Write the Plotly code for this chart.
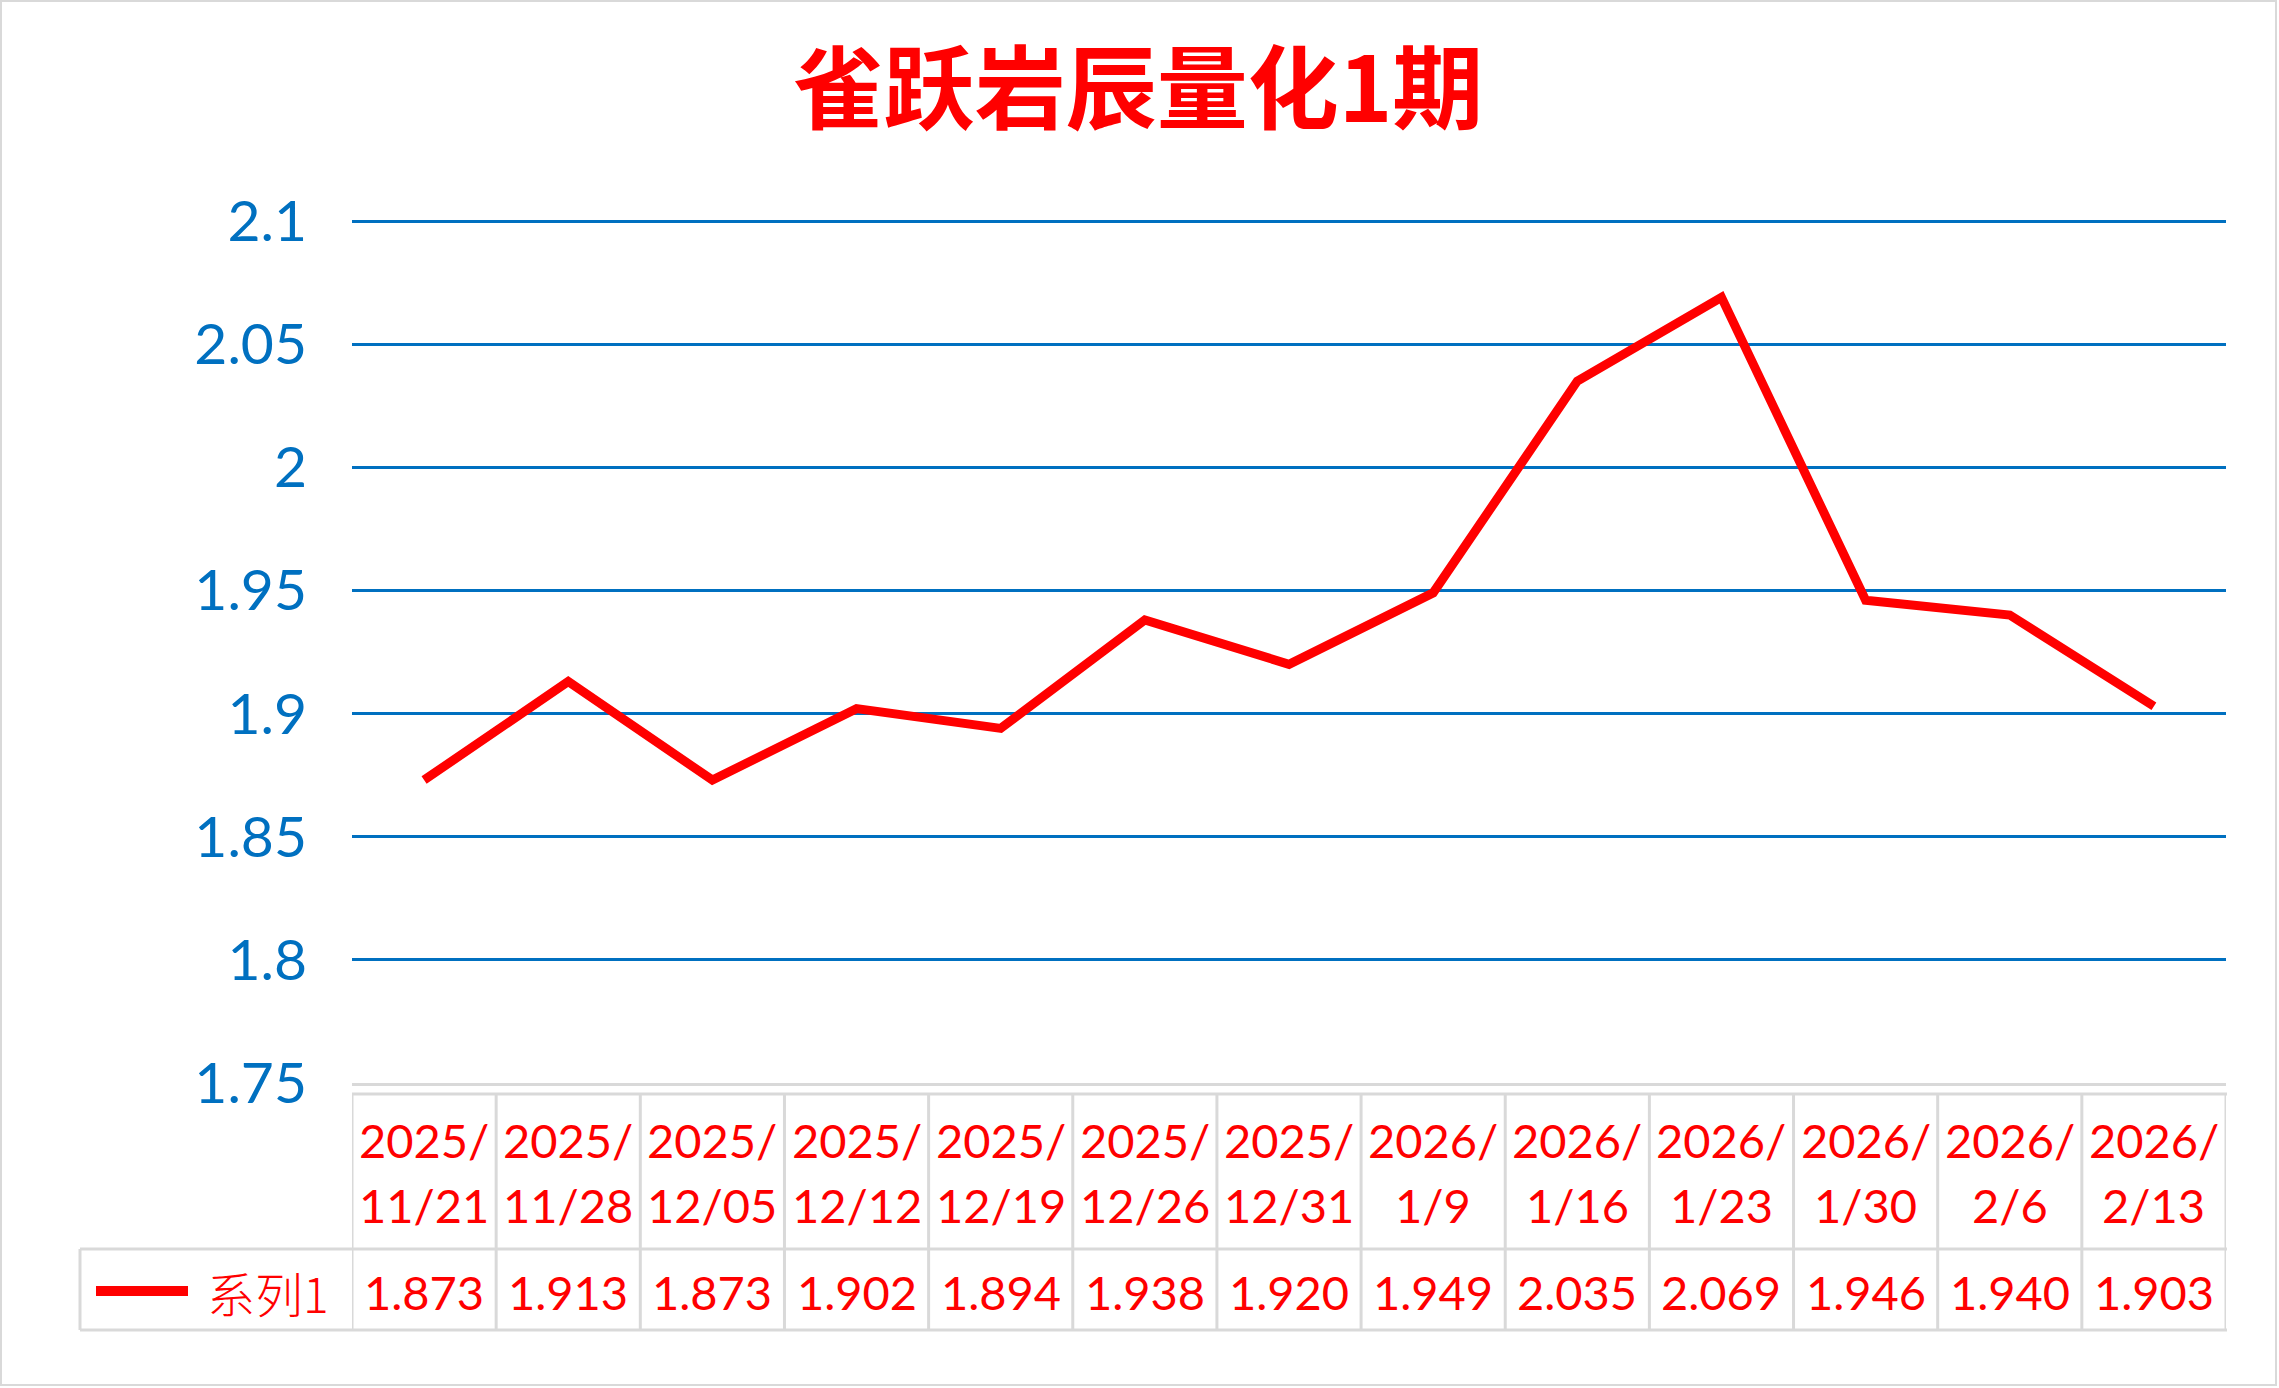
import plotly.graph_objects as go

# ---- data ----
dates = ["2025/11/21", "2025/11/28", "2025/12/05", "2025/12/12", "2025/12/19",
         "2025/12/26", "2025/12/31", "2026/1/9", "2026/1/16", "2026/1/23",
         "2026/1/30", "2026/2/6", "2026/2/13"]
values = [1.873, 1.913, 1.873, 1.902, 1.894, 1.938, 1.920, 1.949, 2.035, 2.069,
          1.946, 1.940, 1.903]
series_name = "系列1"
title_text = "雀跃岩辰量化1期"

W, H = 2279, 1388
PL, PR, PT, PB = 352, 2226, 217, 1083  # plot area pixel box
Y0, Y2 = 1.75, 2.1
UNIT = (PB - 221) / (Y2 - Y0)       # pixels per unit (2.1 sits at y=221)
YTOP = Y2 + (221 - PT) / UNIT

RED = "#FF0000"
BLUE = "#0070C0"
GRAY = "#D9D9D9"
TFONT = "Lato"


def px(x):
    return (x - PL) / (PR - PL)


def py(y):
    return (PB - y) / (PB - PT)


fig = go.Figure()
fig.add_trace(go.Scatter(
    x=dates, y=values, mode="lines", name=series_name,
    line=dict(color=RED, width=9), showlegend=False,
))

annotations = []
shapes = []
n = len(dates)
for i, (d, v) in enumerate(zip(dates, values)):
    year, rest = d.split("/", 1)
    annotations.append(dict(x=d, y=py(1140), xref="x", yref="paper", text=year + "/",
                            showarrow=False, font=dict(family=TFONT, size=47, color=RED),
                            xanchor="center", yanchor="middle"))
    annotations.append(dict(x=d, y=py(1205), xref="x", yref="paper", text=rest,
                            showarrow=False, font=dict(family=TFONT, size=47, color=RED),
                            xanchor="center", yanchor="middle"))
    annotations.append(dict(x=d, y=py(1292), xref="x", yref="paper", text=f"{v:.3f}",
                            showarrow=False, font=dict(family=TFONT, size=47, color=RED),
                            xanchor="center", yanchor="middle"))

# legend label in table
annotations.append(dict(x=px(205), y=py(1292), xref="paper", yref="paper", text=series_name,
                        showarrow=False, font=dict(family="Noto Sans CJK SC", size=48, color=RED,
                                                   weight=300),
                        xanchor="left", yanchor="middle"))

# table grid lines (vertical between categories)
for k in range(n + 1):
    xb = k - 0.5
    shapes.append(dict(type="line", xref="x", yref="paper", x0=xb, x1=xb,
                       y0=py(1094), y1=py(1330), line=dict(color=GRAY, width=3)))
shapes.append(dict(type="line", xref="paper", yref="paper", x0=px(PL), x1=px(2227),
                   y0=py(1094), y1=py(1094), line=dict(color=GRAY, width=3)))
shapes.append(dict(type="line", xref="paper", yref="paper", x0=px(80), x1=px(2227),
                   y0=py(1249), y1=py(1249), line=dict(color=GRAY, width=3)))
shapes.append(dict(type="line", xref="paper", yref="paper", x0=px(80), x1=px(2227),
                   y0=py(1330), y1=py(1330), line=dict(color=GRAY, width=3)))
shapes.append(dict(type="line", xref="paper", yref="paper", x0=px(80), x1=px(80),
                   y0=py(1249), y1=py(1330), line=dict(color=GRAY, width=3)))
# legend key line
shapes.append(dict(type="line", xref="paper", yref="paper", x0=px(96), x1=px(188),
                   y0=py(1291), y1=py(1291), line=dict(color=RED, width=10)))
# outer chart border
shapes.append(dict(type="rect", xref="paper", yref="paper", x0=px(1), x1=px(2276),
                   y0=py(1385), y1=py(1), line=dict(color=GRAY, width=2), layer="below"))

fig.update_layout(
    width=W, height=H,
    margin=dict(l=PL, r=W - PR, t=PT, b=H - PB, pad=0),
    paper_bgcolor="white", plot_bgcolor="white",
    title=dict(text=title_text, x=1138 / W, xref="container", xanchor="center",
               y=1 - 90 / H, yref="container", yanchor="middle",
               font=dict(family="Noto Sans CJK SC", size=91, color=RED, weight="bold")),
    xaxis=dict(type="category", range=[-0.5, n - 0.5], showticklabels=False,
               showgrid=False, zeroline=False, showline=True, linecolor=GRAY, linewidth=3,
               ticks=""),
    yaxis=dict(range=[Y0, YTOP], tick0=Y0, dtick=0.05, showgrid=True,
               gridcolor=BLUE, gridwidth=2.5, zeroline=False, showline=False,
               tickfont=dict(family=TFONT, size=57, color=BLUE), ticklabelstandoff=44),
    annotations=annotations,
    shapes=shapes,
    showlegend=False,
)

fig.write_html("out.html", config={"displayModeBar": False},
               post_script="document.body.style.margin='0';document.body.style.overflow='hidden';")
